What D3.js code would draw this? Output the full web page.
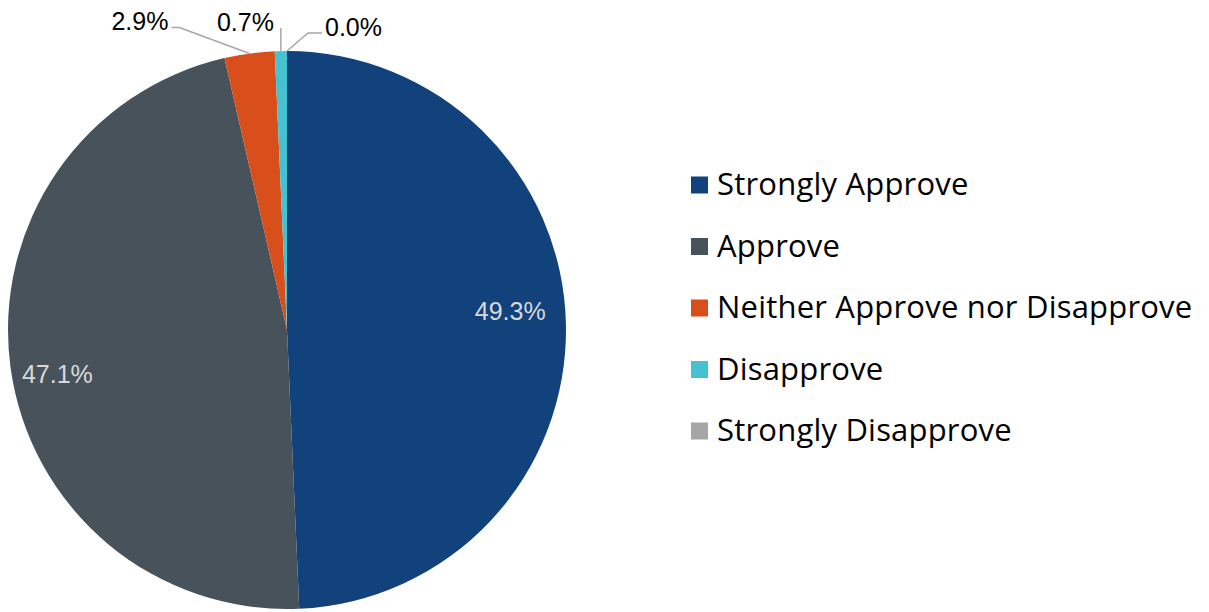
<!DOCTYPE html>
<html>
<head>
<meta charset="utf-8">
<script src="https://cdn.jsdelivr.net/npm/d3@7/dist/d3.min.js"></script>
<style>
  html, body { margin: 0; padding: 0; background: #fff; }
  svg { display: block; }
</style>
</head>
<body>
<svg id="chart" width="1209" height="612"></svg>
<script>
// Response shares, in percent
const categories = ["Strongly Approve", "Approve", "Neither Approve nor Disapprove", "Disapprove", "Strongly Disapprove"];
const values = [49.3, 47.1, 2.9, 0.7, 0.0];
const valueLabels = ["49.3%", "47.1%", "2.9%", "0.7%", "0.0%"];
const colors = ["#12427c", "#47525a", "#d84f1b", "#46c1d2", "#a6a6a6"];

const svg = d3.select("#chart");
const cx = 287, cy = 330, r = 279;

const data = categories.map((c, i) => ({ name: c, value: values[i], label: valueLabels[i], color: colors[i] }));

const pie = d3.pie().value(d => d.value).sort(null).startAngle(0).endAngle(2 * Math.PI);
const arcs = pie(data);
const arc = d3.arc().innerRadius(0).outerRadius(r);

const g = svg.append("g").attr("transform", `translate(${cx},${cy})`);

g.selectAll("path.slice")
  .data(arcs)
  .join("path")
  .attr("class", "slice")
  .attr("d", arc)
  .attr("fill", d => d.data.color);

const labelFont = "'Liberation Sans', Arial, sans-serif";
const mid = d => (d.startAngle + d.endAngle) / 2;
const pt = (a, rad) => [rad * Math.sin(a), -rad * Math.cos(a)];

// Large slices: label inside the slice
const insideR = 229, insideShift = -3.4 * Math.PI / 180;
g.selectAll("text.inside")
  .data(arcs.filter(d => d.data.value >= 10))
  .join("text")
  .attr("class", "inside")
  .attr("x", d => pt(mid(d) + insideShift, insideR)[0] - 5)
  .attr("y", d => pt(mid(d) + insideShift, insideR)[1])
  .attr("dy", "0.36em")
  .attr("text-anchor", "middle")
  .attr("font-family", labelFont)
  .attr("font-size", 25)
  .attr("fill", "#d9d9d9")
  .text(d => d.data.label);

// Small slices: label outside with a leader line
const leaderStyle = [
  { elbow: [-70, -26], end: [-78, -26], anchor: "end", tx: -81, ty: -33 },
  { elbow: [0, -23], end: [0, -23], anchor: "end", tx: -7, ty: -29 },
  { elbow: [21, -18], end: [35, -18], anchor: "start", tx: 38, ty: -24 }
];
const small = arcs.filter(d => d.data.value < 10);
small.forEach((d, i) => {
  const s = leaderStyle[i];
  const p0 = pt(mid(d), r);
  const p1 = [p0[0] + s.elbow[0], p0[1] + s.elbow[1]];
  const p2 = [p0[0] + s.end[0], p0[1] + s.end[1]];
  g.append("polyline")
    .attr("points", [p0, p1, p2].map(p => p.join(",")).join(" "))
    .attr("fill", "none")
    .attr("stroke", "#a6a6a6")
    .attr("stroke-width", 1.5);
  g.append("text")
    .attr("x", p0[0] + s.tx)
    .attr("y", p0[1] + s.ty)
    .attr("dy", "0.36em")
    .attr("text-anchor", s.anchor)
    .attr("font-family", labelFont)
    .attr("font-size", 25)
    .attr("fill", "#000")
    .text(d.data.label);
});

// Legend
const legendX = 691, legendY = 185, rowGap = 61.5, box = 17;
const legend = svg.append("g").selectAll("g")
  .data(data)
  .join("g")
  .attr("transform", (d, i) => `translate(${legendX},${legendY + i * rowGap})`);
legend.append("rect")
  .attr("x", 0).attr("y", -box / 2)
  .attr("width", box).attr("height", box)
  .attr("fill", d => d.color);
legend.append("text")
  .attr("x", 26).attr("y", 10)
  .attr("font-family", "'Open Sans', sans-serif")
  .attr("font-size", 31)
  .attr("letter-spacing", 0.2)
  .attr("fill", "#000")
  .text(d => d.name);
</script>
</body>
</html>
